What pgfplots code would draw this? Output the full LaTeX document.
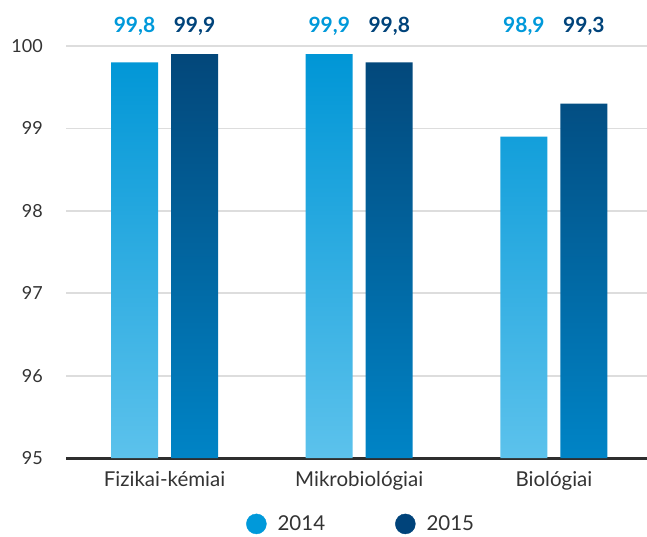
\documentclass[border=0pt]{standalone}
\usepackage{pgfplots}
\pgfplotsset{compat=1.18}
\usepackage{fontspec}
\setmainfont{Lato}
\definecolor{c14top}{HTML}{0096D6}
\definecolor{c14bot}{HTML}{5CC2EC}
\definecolor{c15top}{HTML}{03477A}
\definecolor{c15bot}{HTML}{0084C6}
\definecolor{c14}{HTML}{0099DA}
\definecolor{c15}{HTML}{00437A}
\definecolor{txt}{HTML}{333333}
\definecolor{gridc}{HTML}{DDDDDD}
\begin{document}
\begin{tikzpicture}
\begin{axis}[
  at={(66pt,78pt)}, anchor=south west,
  scale only axis, width=581pt, height=412pt,
  xmin=-0.506, xmax=2.478, ymin=95, ymax=100,
  clip=false, set layers,
  axis x line*=bottom, axis y line*=left,
  y axis line style={draw=none},
  x axis line style={draw=txt!90!black, line width=3pt, -, /pgfplots/on layer=axis foreground},
  major tick length=0pt,
  xtick={0,1,2},
  xticklabels={Fizikai-kémiai, Mikrobiológiai, Biológiai},
  ytick={95,96,97,98,99,100},
  ymajorgrids, grid style={gridc, line width=1.8pt},
  /pgf/number format/assume math mode=true,
  yticklabel style={font=\fontsize{18}{20}\selectfont, text=txt, anchor=east, inner sep=0pt, xshift=-23pt},
  xticklabel style={font=\fontsize{20.5}{22}\selectfont, text=txt, anchor=base, inner sep=0pt, yshift=-28pt},
  legend style={at={(0.508,-0.160)}, anchor=center, draw=none, fill=none, inner sep=0pt,
    legend columns=2, font=\fontsize{20.5}{24}\selectfont, text=txt,
    /tikz/every even column/.append style={column sep=68pt}},
  legend cell align=left,
]
\addplot[ybar, bar width=47pt, bar shift=-30pt, draw=none, top color=c14top, bottom color=c14bot, forget plot]
  coordinates {(0,99.8) (1,99.9) (2,98.9)};
\addplot[ybar, bar width=47pt, bar shift=30pt, draw=none, top color=c15top, bottom color=c15bot, forget plot]
  coordinates {(0,99.9) (1,99.8) (2,99.3)};
\addplot[draw=none, mark=none, forget plot, point meta=explicit,
  nodes near coords={\pgfmathprintnumber[use comma, fixed, precision=1, fixed zerofill]{\pgfplotspointmeta}},
  every node near coord/.append style={anchor=base, inner sep=0pt, xshift=-30pt, text=c14, font=\fontsize{21}{24}\selectfont\bfseries}]
  coordinates {(0,100.16) [99.8] (1,100.16) [99.9] (2,100.16) [98.9]};
\addplot[draw=none, mark=none, forget plot, point meta=explicit,
  nodes near coords={\pgfmathprintnumber[use comma, fixed, precision=1, fixed zerofill]{\pgfplotspointmeta}},
  every node near coord/.append style={anchor=base, inner sep=0pt, xshift=30pt, text=c15, font=\fontsize{21}{24}\selectfont\bfseries}]
  coordinates {(0,100.16) [99.9] (1,100.16) [99.8] (2,100.16) [99.3]};
\addlegendimage{legend image code/.code={\fill[c14] (0pt,0pt) circle (10pt); \path (19pt,0pt);}}
\addlegendentry{2014}
\addlegendimage{legend image code/.code={\fill[c15] (0pt,0pt) circle (10pt); \path (19pt,0pt);}}
\addlegendentry{2015}
\end{axis}
\pgfresetboundingbox
\useasboundingbox (0,0) rectangle (647pt,536pt);
\end{tikzpicture}
\end{document}
